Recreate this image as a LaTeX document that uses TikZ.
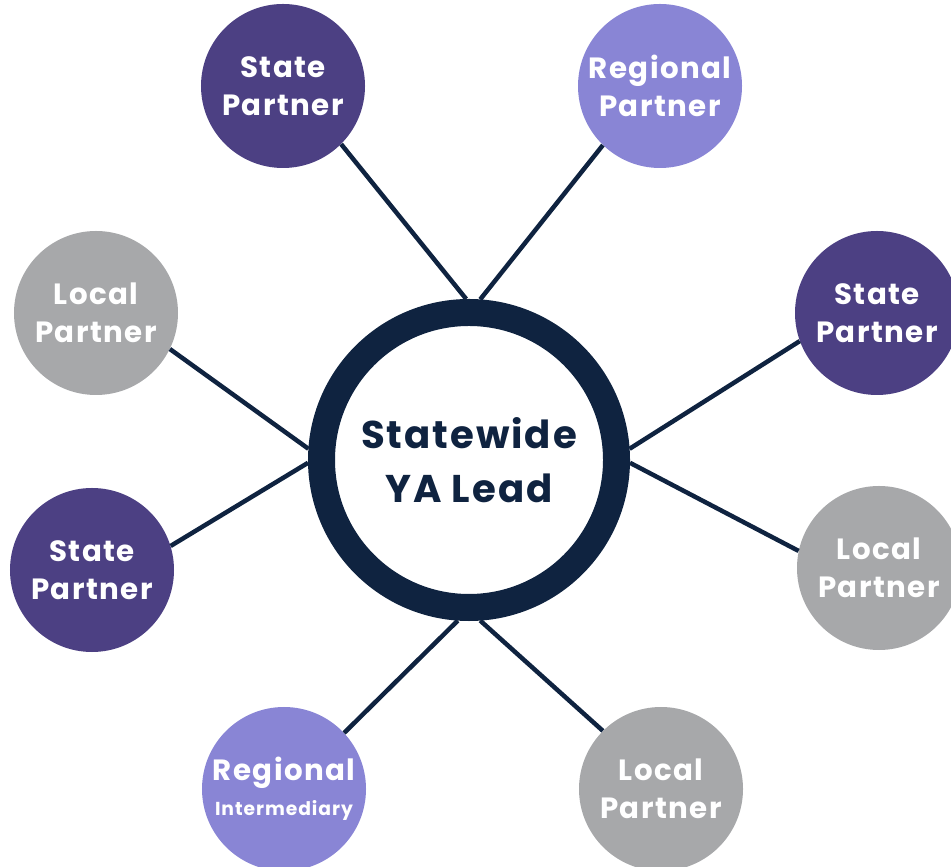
\documentclass[tikz,border=0pt]{standalone}
\usepackage{fontspec}
\setmainfont{Poppins}[LetterSpace=5]
\definecolor{navy}{HTML}{0F2340}
\definecolor{statepurple}{HTML}{4C4083}
\definecolor{regionpurple}{HTML}{8985D5}
\definecolor{localgray}{HTML}{A7A8AA}
\begin{document}
\begin{tikzpicture}[x=0.03cm,y=0.03cm,
    partner/.style={circle, minimum size=4.92cm, inner sep=0pt, align=center,
      text=white, font=\fontsize{25}{32}\selectfont\bfseries},
    link/.style={draw=navy, line width=0.135cm}]
    \clip (0,0) rectangle (951,866);
    \useasboundingbox (0,0) rectangle (951,866);
    % hub
    \node[circle, draw=navy, line width=0.81cm, minimum size=8.85cm, align=center,
      text=navy, font=\fontsize{33}{46}\selectfont\bfseries] (hub) at (469,406)
      {Statewide\\YA Lead};
    % partners around it
    \node[partner, fill=statepurple] (stateA) at (283,780) {State\\Partner};
    \node[partner, fill=regionpurple] (regionA) at (660,780) {Regional\\Partner};
    \node[partner, fill=localgray] (localA) at (96,553) {Local\\Partner};
    \node[partner, fill=statepurple] (stateB) at (877,553) {State\\Partner};
    \node[partner, fill=statepurple] (stateC) at (92,296) {State\\Partner};
    \node[partner, fill=localgray] (localB) at (879,298) {Local\\Partner};
    \node[partner, fill=regionpurple] (regionB) at (284,77)
      {Regional\\[-2pt]{\fontsize{16}{20}\selectfont Intermediary}};
    \node[partner, fill=localgray] (localC) at (661,77) {Local\\Partner};
    % spokes
    \draw[link] (stateA.-45.5) -- (hub.91.8);
    \draw[link] (regionA.-134) -- (hub.86.8);
    \draw[link] (localA.-26.6) -- (hub.176.4);
    \draw[link] (stateB.200.6) -- (hub.4.3);
    \draw[link] (stateC.17.4) -- (hub.181);
    \draw[link] (localB.168.5) -- (hub.-1);
    \draw[link] (regionB.43.5) -- (hub.266);
    \draw[link] (localC.135) -- (hub.274.7);
\end{tikzpicture}
\end{document}
